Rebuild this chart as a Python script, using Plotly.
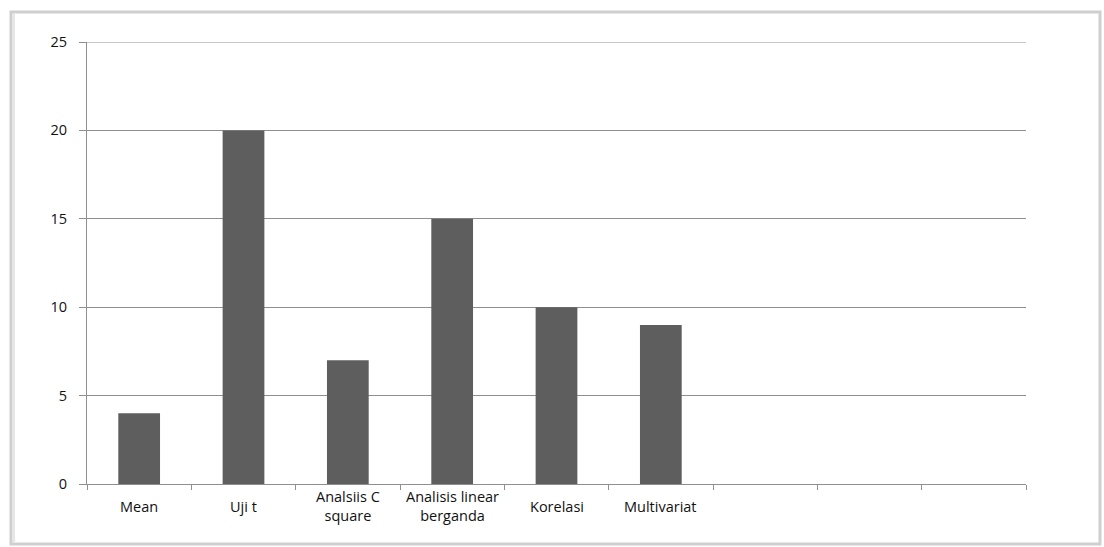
import plotly.graph_objects as go

# Category labels (blank slots keep the empty columns on the axis)
categories = ["Mean", "Uji t", "Analsiis C<br>square", "Analisis linear<br>berganda",
              "Korelasi", "Multivariat", " ", "  ", "   "]
values = [4, 20, 7, 15, 10, 9, None, None, None]
y_ticks = [0, 5, 10, 15, 20, 25]

W, H = 1104, 547
L, R, T, B = 87, 1026, 42, 484

fig = go.Figure(go.Bar(
    x=categories, y=values,
    marker=dict(color="#5e5e5e", line=dict(width=0)),
    hoverinfo="skip",
))

grid = "#8f8f8f"
fsize = 14.5
fig.update_layout(
    width=W, height=H,
    margin=dict(l=L, r=W - R, t=T, b=H - B, pad=0),
    paper_bgcolor="white", plot_bgcolor="white",
    bargap=0.6,
    showlegend=False,
    font=dict(family="Open Sans, Liberation Sans, sans-serif", size=fsize, color="#111111"),
    xaxis=dict(
        type="category", tickson="boundaries",
        showgrid=False, showline=True, linecolor=grid, linewidth=1,
        ticks="outside", ticklen=5, tickcolor=grid, tickwidth=1,
        showticklabels=False,
        range=[-0.5, 8.5],
    ),
    yaxis=dict(
        range=[0, 25], tickvals=y_ticks,
        showgrid=True, gridcolor=grid, gridwidth=1,
        showline=True, linecolor=grid, linewidth=1,
        ticks="outside", ticklen=7, tickcolor=grid, tickwidth=1,
        ticklabelstandoff=9,
        tickfont=dict(size=fsize),
        zeroline=False,
    ),
)

# Category labels, vertically centred below the axis
pw, ph = R - L, B - T
for cat in categories:
    if cat.strip():
        fig.add_annotation(x=cat, xref="x", y=(B - 506) / ph, yref="paper",
                           text=cat, showarrow=False, xanchor="center",
                           yanchor="middle", align="center",
                           font=dict(size=fsize, color="#111111"))

# Top gridline at the axis maximum
fig.add_shape(type="line", xref="paper", yref="y", x0=0, x1=1,
              y0=y_ticks[-1], y1=y_ticks[-1], line=dict(color=grid, width=1))

# Chart frame around the whole figure
def px(x):
    return (x - L) / pw
def py(y):
    return (B - y) / ph

fig.add_shape(type="rect", xref="paper", yref="paper",
              x0=px(11), x1=px(1100), y0=py(544), y1=py(12),
              line=dict(color="#cfcfcf", width=3), layer="below")
fig.add_shape(type="line", xref="paper", yref="paper",
              x0=px(14), x1=px(14), y0=py(542), y1=py(14),
              line=dict(color="#e6e6e6", width=2), layer="below")

fig.write_html("out.html")
